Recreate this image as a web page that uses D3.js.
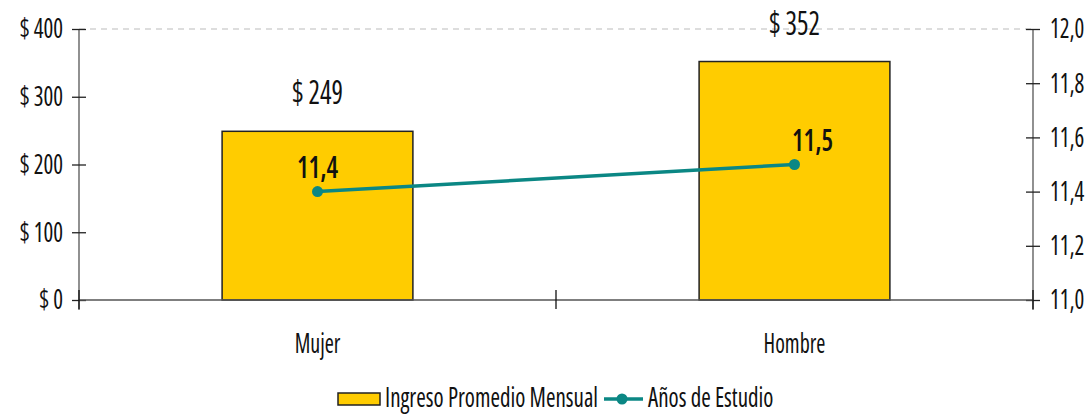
<!DOCTYPE html>
<html><head><meta charset="utf-8">
<script src="https://d3js.org/d3.v7.min.js"></script>
<style>
body{margin:0;background:#fff;}
svg text{font-family:"Open Sans",sans-serif;font-stretch:condensed;fill:#111;}
</style></head><body>
<svg id="c" width="1089" height="417"></svg>
<script>
const categories = ["Mujer", "Hombre"];
const ingreso = [249, 352];
const anios = [11.4, 11.5];
const leftTicks = [0, 100, 200, 300, 400];
const rightTicks = [11.0, 11.2, 11.4, 11.6, 11.8, 12.0];
const seriesNames = ["Ingreso Promedio Mensual", "Años de Estudio"];

const svg = d3.select("#c");
const m = {l:79, r:56, t:29, b:117};
const W = 1089, H = 417;
const SY = 1.2; // vertical stretch to mimic the tall condensed face
const xb = d3.scaleBand().domain(categories).range([m.l, W - m.r]);
const yL = d3.scaleLinear().domain([0, 400]).range([H - m.b, m.t]);
const yR = d3.scaleLinear().domain([11, 12]).range([H - m.b, m.t]);
const y0 = yL(0);
const teal = "#0B8784";
const cx = d => xb(d) + xb.bandwidth()/2;
const fmtDec = d => d3.format(".1f")(d).replace(".", ",");

function tText(g, x, y, str, size, anchor, weight) {
  return g.append("text")
    .attr("transform", `translate(${x},${y}) scale(1,${SY})`)
    .attr("text-anchor", anchor || "start")
    .attr("font-size", size)
    .attr("font-weight", weight || 400)
    .text(str);
}

// gridline at top
svg.append("line").attr("x1", m.l).attr("x2", W - m.r).attr("y1", yL(400)).attr("y2", yL(400))
  .attr("stroke", "#bbb").attr("stroke-dasharray", "6,5").attr("stroke-width", 1);

// bars
const bw = xb.bandwidth() * 0.4;
svg.selectAll("rect.bar").data(categories).enter().append("rect")
  .attr("x", d => cx(d) - bw/2)
  .attr("width", bw)
  .attr("y", (d,i) => yL(ingreso[i]))
  .attr("height", (d,i) => y0 - yL(ingreso[i]))
  .attr("fill", "#FFCC00").attr("stroke", "#222").attr("stroke-width", 1.5);

// axes
const axL = svg.append("g").attr("transform", `translate(${m.l},0)`)
  .call(d3.axisLeft(yL).tickValues(leftTicks).tickFormat(d => "$ " + d).tickSizeInner(7).tickSizeOuter(0).tickPadding(10));
axL.selectAll(".tick line").attr("x2", 7).attr("x1", -7);
const axR = svg.append("g").attr("transform", `translate(${W - m.r},0)`)
  .call(d3.axisRight(yR).tickValues(rightTicks).tickFormat(fmtDec).tickSizeInner(7).tickSizeOuter(0).tickPadding(10));
axR.selectAll(".tick line").attr("x1", -7).attr("x2", 7);
[axL, axR].forEach(a => {
  a.select(".domain").attr("stroke", "#555").attr("stroke-width", 1.3);
  a.selectAll(".tick line").attr("stroke", "#222").attr("stroke-width", 1.3);
  a.selectAll(".tick text").attr("font-size", 23).attr("fill", "#111")
    .attr("transform", `scale(1,${SY})`);
});
axL.selectAll(".tick text").attr("x", -16);
axL.select(".domain").attr("d", `M0,${yL(400)}V${y0 + 10}`);
axR.select(".domain").attr("d", `M0,${yR(12)}V${y0 + 10}`);

// x axis baseline
svg.append("line").attr("x1", m.l).attr("x2", W - m.r).attr("y1", y0).attr("y2", y0)
  .attr("stroke", "#555").attr("stroke-width", 1.3);
// category separator ticks
const sepX = [xb.range()[0], xb(categories[1]), xb.range()[1]];
svg.selectAll("line.sep").data(sepX).enter().append("line")
  .attr("x1", d => d).attr("x2", d => d).attr("y1", y0 - 10).attr("y2", y0 + 9)
  .attr("stroke", "#111").attr("stroke-width", 1.3);
// category labels
categories.forEach(c => tText(svg, cx(c), y0 + 53, c, 22, "middle"));

// bar value labels
categories.forEach((c, i) => tText(svg, cx(c), yL(ingreso[i]) - 27, "$ " + ingreso[i], 27, "middle"));

// line
const lineGen = d3.line().x((d,i) => cx(categories[i])).y(d => yR(d));
svg.append("path").datum(anios).attr("d", lineGen).attr("fill", "none")
  .attr("stroke", teal).attr("stroke-width", 3.5);
svg.selectAll("circle.pt").data(anios).enter().append("circle")
  .attr("cx", (d,i) => cx(categories[i])).attr("cy", d => yR(d)).attr("r", 5.5)
  .attr("fill", teal);
const lineLabelNudge = [0, 18];
anios.forEach((v, i) => tText(svg, cx(categories[i]) + lineLabelNudge[i], yR(v) - 14, fmtDec(v), 26, "middle", 560));

// legend
const lg = svg.append("g").attr("transform", "translate(0,399)");
lg.append("rect").attr("x", 338).attr("y", -6).attr("width", 42).attr("height", 12)
  .attr("fill", "#FFCC00").attr("stroke", "#222").attr("stroke-width", 1.5);
tText(lg, 385, 8, seriesNames[0], 23, "start");
lg.append("line").attr("x1", 604).attr("x2", 643).attr("y1", 0).attr("y2", 0)
  .attr("stroke", teal).attr("stroke-width", 3.5);
lg.append("circle").attr("cx", 622).attr("cy", 0).attr("r", 5.5).attr("fill", teal);
tText(lg, 648, 8, seriesNames[1], 23, "start");
</script></body></html>
